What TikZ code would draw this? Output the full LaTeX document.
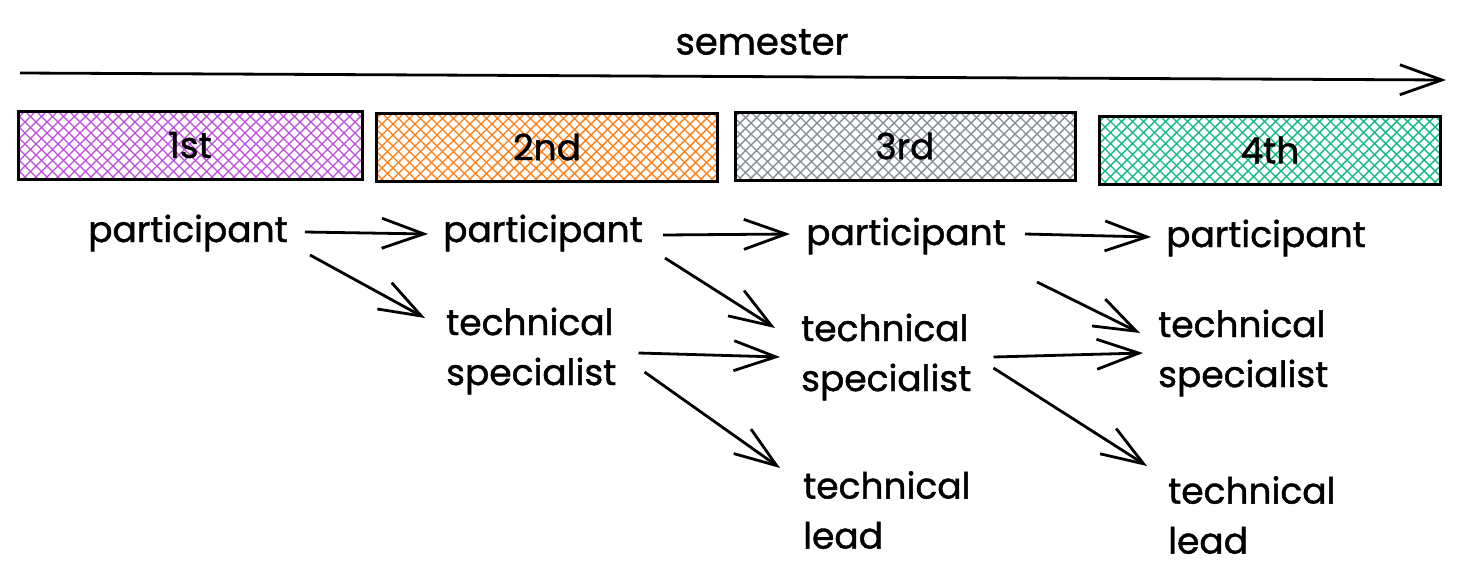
\documentclass[tikz,border=0pt]{standalone}
\usepackage{fontspec}
\setmainfont{Poppins}[FakeBold=1.2]
\usetikzlibrary{arrows.meta,calc}
\definecolor{cpurple}{HTML}{BE4BDB}
\definecolor{corange}{HTML}{FD7E14}
\definecolor{cgray}{HTML}{868E96}
\definecolor{cgreen}{HTML}{12B886}
\tikzset{
  hatch/.style={path picture={
    \foreach \i in {-440,-429,...,440} {
      \draw[#1,line width=1.4pt] ([xshift=\i pt,yshift=-120pt]path picture bounding box.center) -- ++(240pt,240pt);
      \draw[#1,line width=1.4pt] ([xshift=\i pt,yshift=-120pt]path picture bounding box.center) -- ++(-240pt,240pt);
    }}},
  sem/.style={draw=black,line width=3pt,minimum height=68pt,inner sep=0pt,font=\fontsize{36}{36}\selectfont},
  lbl/.style={font=\fontsize{36}{50}\selectfont,inner sep=0pt,align=left},
  arr/.style={line width=2.8pt,-{Straight Barb[length=42pt,width=30pt,line width=2.8pt]}},
}
\begin{document}
\begin{tikzpicture}[x=1pt,y=-1pt]
\useasboundingbox (0,0) rectangle (1465,587);
% semester arrow
\coordinate (s0) at (20,73);
\coordinate (s1) at (1446,80);
\draw[arr] (s0) -- (s1);
\node[font=\fontsize{37}{37}\selectfont] (semlbl) at (762,42) {semester};
% semester boxes
\node[sem,hatch=cpurple,minimum width=344pt] (b1) at (190,145) {1st};
\node[sem,hatch=corange,minimum width=341pt] (b2) at (547,147) {2nd};
\node[sem,hatch=cgray,minimum width=340pt] (b3) at (905,146) {3rd};
\node[sem,hatch=cgreen,minimum width=341pt] (b4) at (1270,150) {4th};
% labels
\node[lbl] (p1) at (188,233) {participant};
\node[lbl] (p2) at (543,233) {participant};
\node[lbl] (p3) at (906,236) {participant};
\node[lbl] (p4) at (1266,238) {participant};
\node[lbl,anchor=west] (ts2) at (446,351) {technical\\specialist};
\node[lbl,anchor=west] (ts3) at (801,357) {technical\\specialist};
\node[lbl,anchor=west] (ts4) at (1158,353) {technical\\specialist};
\node[lbl,anchor=west] (tl3) at (803,510) {technical\\lead};
\node[lbl,anchor=west] (tl4) at (1168,515) {technical\\lead};
% arrows
\draw[arr] ($(p1.east)+(17,-1)$) -- ($(p2.west)+(-15,1)$);
\draw[arr] ($(p1.east)+(22,22)$) -- ($(ts2.west)+(-21,-33)$);
\draw[arr] ($(p2.east)+(20,2)$) -- ($(p3.west)+(-16,-2)$);
\draw[arr] ($(p2.east)+(22,25)$) -- ($(ts3.west)+(-26,-29)$);
\draw[arr] ($(ts2.east)+(22,2)$) -- ($(ts3.west)+(-21,0)$);
\draw[arr] ($(ts2.east)+(28,21)$) -- ($(tl3.west)+(-23,-42)$);
\draw[arr] ($(p3.east)+(19,-2)$) -- ($(p4.west)+(-15,-1)$);
\draw[arr] ($(p3.east)+(31,46)$) -- ($(ts4.west)+(-18,-20)$);
\draw[arr] ($(ts3.east)+(22,0)$) -- ($(ts4.west)+(-15,0)$);
\draw[arr] ($(ts3.east)+(22,11)$) -- ($(tl4.west)+(-21,-49)$);
\end{tikzpicture}
\end{document}
